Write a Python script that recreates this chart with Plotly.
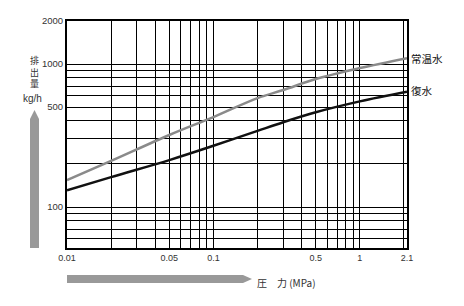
import plotly.graph_objects as go

# Data
pressure = [0.01, 0.02, 0.05, 0.1, 0.2, 0.3, 0.5, 1.0, 2.1]
normal_water = [154, 210, 319, 426, 578, 658, 786, 937, 1100]   # 常温水
condensate = [131, 162, 213, 268, 341, 392, 460, 548, 640]     # 復水

x_grid = [0.01, 0.02, 0.03, 0.04, 0.05, 0.06, 0.07, 0.08, 0.09, 0.1,
          0.2, 0.3, 0.4, 0.5, 0.6, 0.7, 0.8, 0.9, 1, 2, 2.1]
x_labels = {0.01: "0.01", 0.05: "0.05", 0.1: "0.1", 0.5: "0.5", 1: "1", 2.1: "2.1"}
y_grid = [60, 70, 80, 90, 100, 200, 300, 400, 500, 600, 700, 800, 900, 1000, 2000]
y_labels = {100: "100", 500: "500", 1000: "1000", 2000: "2000"}

W, H = 464, 306
L, R, T, B = 67, 407, 21, 248


def px(x):
    return (x - L) / (R - L)


def py(y):
    return (B - y) / (B - T)


fig = go.Figure()
fig.add_trace(go.Scatter(x=pressure, y=normal_water, mode="lines",
                         line=dict(color="#8a8a8a", width=2.5, shape="spline"),
                         showlegend=False, hoverinfo="skip"))
fig.add_trace(go.Scatter(x=pressure, y=condensate, mode="lines",
                         line=dict(color="#111111", width=2.5, shape="spline"),
                         showlegend=False, hoverinfo="skip"))

font_lat = "Liberation Sans, Arial, sans-serif"
font_jp = "Noto Sans CJK JP"

fig.update_xaxes(type="log", range=[-2, 0.322219], tickmode="array",
                 tickvals=x_grid, ticktext=[x_labels.get(v, "") for v in x_grid],
                 showgrid=True, gridcolor="#000", gridwidth=1,
                 showline=True, linecolor="#000", linewidth=2, mirror=True,
                 ticks="", zeroline=False,
                 tickfont=dict(family=font_lat, size=9, color="#333"))
fig.update_yaxes(type="log", range=[1.7135, 3.30103], tickmode="array",
                 tickvals=y_grid, ticktext=[y_labels.get(v, "") for v in y_grid],
                 showgrid=True, gridcolor="#000", gridwidth=1,
                 showline=True, linecolor="#000", linewidth=2, mirror=True,
                 ticks="", zeroline=False,
                 tickfont=dict(family=font_lat, size=9.5, color="#333"))

annotations = [
    dict(x=px(409), y=py(58), text="常温水", xanchor="left", yanchor="middle",
         font=dict(family=font_jp, size=10.5, color="#111")),
    dict(x=px(409), y=py(91), text="復水", xanchor="left", yanchor="middle",
         font=dict(family=font_jp, size=10.5, color="#111")),
    dict(x=px(34), y=py(72), text="排<br>出<br>量", xanchor="center", yanchor="middle",
         font=dict(family=font_jp, size=9, color="#333")),
    dict(x=px(32), y=py(98), text="kg/h", xanchor="center", yanchor="middle",
         font=dict(family=font_lat, size=10, color="#333")),
    dict(x=px(255), y=py(282), text="圧　力 (MPa)", xanchor="left", yanchor="middle",
         font=dict(family=font_jp, size=10, color="#333")),
]
for a in annotations:
    a.update(xref="paper", yref="paper", showarrow=False)

arrow_color = "#999999"
shapes = [
    # vertical arrow
    dict(type="path", xref="paper", yref="paper",
         path=f"M {px(30)} {py(248)} L {px(39)} {py(248)} L {px(39)} {py(119)} "
              f"L {px(34.5)} {py(110)} L {px(30)} {py(119)} Z",
         fillcolor=arrow_color, line=dict(width=0)),
    # horizontal arrow
    dict(type="path", xref="paper", yref="paper",
         path=f"M {px(67)} {py(275)} L {px(243)} {py(275)} L {px(252)} {py(279)} "
              f"L {px(243)} {py(283)} L {px(67)} {py(283)} Z",
         fillcolor=arrow_color, line=dict(width=0)),
]

fig.update_layout(width=W, height=H, margin=dict(l=L, r=W - R, t=T, b=H - B),
                  paper_bgcolor="white", plot_bgcolor="white",
                  annotations=annotations, shapes=shapes)

fig.write_html("out.html")
